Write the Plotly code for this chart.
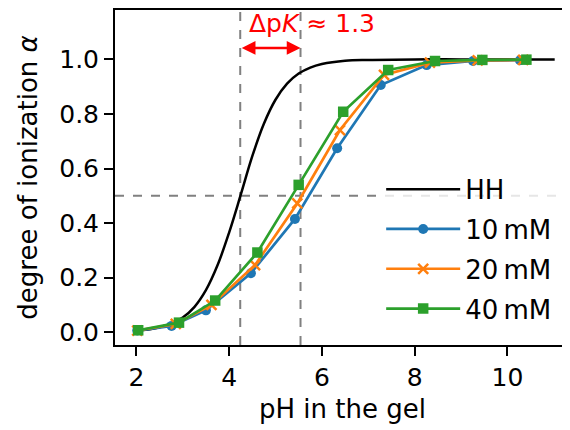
import plotly.graph_objects as go

# Henderson-Hasselbalch curve
hh_ph = [2.0, 2.5, 3.0, 3.25, 3.5, 3.75, 4.0, 4.25, 4.5, 4.75, 5.0, 5.25, 5.5,
         5.75, 6.0, 6.5, 7.0, 8.0, 9.0, 10.0, 11.02]
hh_alpha = [0.006, 0.018, 0.054, 0.092, 0.154, 0.245, 0.365, 0.503, 0.645, 0.764,
            0.852, 0.911, 0.948, 0.970, 0.983, 0.995, 0.998, 1.0, 1.0, 1.0, 1.0]

ph_10 = [2.02, 2.76, 3.50, 4.47, 5.42, 6.33, 7.27, 8.26, 9.26, 10.27]
alpha_10 = [0.006, 0.023, 0.080, 0.216, 0.415, 0.674, 0.906, 0.979, 0.994, 0.997]

ph_20 = [2.02, 2.85, 3.62, 4.56, 5.47, 6.39, 7.34, 8.33, 9.36, 10.34]
alpha_20 = [0.006, 0.030, 0.100, 0.246, 0.472, 0.741, 0.943, 0.988, 0.996, 0.998]

ph_40 = [2.04, 2.92, 3.70, 4.61, 5.50, 6.46, 7.43, 8.44, 9.46, 10.41]
alpha_40 = [0.007, 0.035, 0.116, 0.292, 0.540, 0.808, 0.961, 0.994, 0.998, 0.999]

pk_hh = 4.24
pk_gel = 5.54
delta_label = "Δp<i>K</i> ≈ 1.3"

FONT = "DejaVu Sans"
fig = go.Figure()

fig.add_trace(go.Scatter(x=hh_ph, y=hh_alpha, mode='lines', name='HH', legendgroup='a',
                         line=dict(color='black', width=2.5, shape='spline')))
fig.add_trace(go.Scatter(x=ph_10, y=alpha_10, mode='lines+markers', name='10\u2009mM',
                         legendgroup='b',
                         line=dict(color='#1f77b4', width=2.7),
                         marker=dict(symbol='circle', size=10, color='#1f77b4')))
fig.add_trace(go.Scatter(x=ph_20, y=alpha_20, mode='lines+markers', name='20\u2009mM',
                         legendgroup='c',
                         line=dict(color='#ff7f0e', width=2.7),
                         marker=dict(symbol='x-thin', size=10,
                                     line=dict(color='#ff7f0e', width=2.5))))
fig.add_trace(go.Scatter(x=ph_40, y=alpha_40, mode='lines+markers', name='40\u2009mM',
                         legendgroup='d',
                         line=dict(color='#2ca02c', width=2.7),
                         marker=dict(symbol='square', size=10.5, color='#2ca02c')))

# dashed guide lines
for xv in (pk_hh, pk_gel):
    fig.add_shape(type='line', xref='x', yref='paper', x0=xv, x1=xv, y0=0, y1=1,
                  line=dict(color='gray', width=2, dash='dash'), layer='below')
fig.add_shape(type='line', xref='paper', yref='y', x0=0, x1=1, y0=0.5, y1=0.5,
              line=dict(color='gray', width=2, dash='dash'), layer='below')

# double arrow
fig.add_annotation(x=pk_gel, y=1.042, ax=pk_hh, ay=1.042, xref='x', yref='y',
                   axref='x', ayref='y', text='', showarrow=True,
                   arrowside='end+start', arrowhead=2, arrowsize=1.1,
                   arrowwidth=2.5, arrowcolor='red')
fig.add_annotation(x=4.38, y=1.132, xref='x', yref='y', text=delta_label,
                   showarrow=False, xanchor='left', yanchor='middle',
                   font=dict(family=FONT, size=25, color='red'))

# the page body adds an 8px offset, margins compensate for it
fig.update_layout(
    width=570, height=430,
    margin=dict(l=107, r=8, t=2, b=93),
    plot_bgcolor='white', paper_bgcolor='white',
    font=dict(family=FONT, size=25, color='black'),
    showlegend=True,
    legend=dict(x=0.585, y=0.535, xanchor='left', yanchor='top',
                bgcolor='rgba(255,255,255,0.8)', borderwidth=0,
                tracegroupgap=3, itemwidth=74,
                font=dict(family=FONT, size=26)),
)
fig.update_xaxes(range=[1.54, 11.35], tickvals=[2, 4, 6, 8, 10],
                 showline=True, linecolor='black', linewidth=2, mirror=True,
                 ticks='outside', ticklen=9, tickwidth=2, tickcolor='black',
                 showgrid=False, zeroline=False, automargin=False,
                 title=dict(text='pH in the gel', standoff=9, font=dict(size=26)))
fig.update_yaxes(range=[-0.047, 1.181], tickvals=[0, 0.2, 0.4, 0.6, 0.8, 1.0],
                 tickformat='.1f',
                 showline=True, linecolor='black', linewidth=2, mirror=False,
                 ticks='outside', ticklen=9, tickwidth=2, tickcolor='black',
                 showgrid=False, zeroline=False, automargin=False,
                 title=dict(text='degree of ionization <i>α</i>', standoff=14,
                            font=dict(size=26)))

fig.write_html("out.html")
